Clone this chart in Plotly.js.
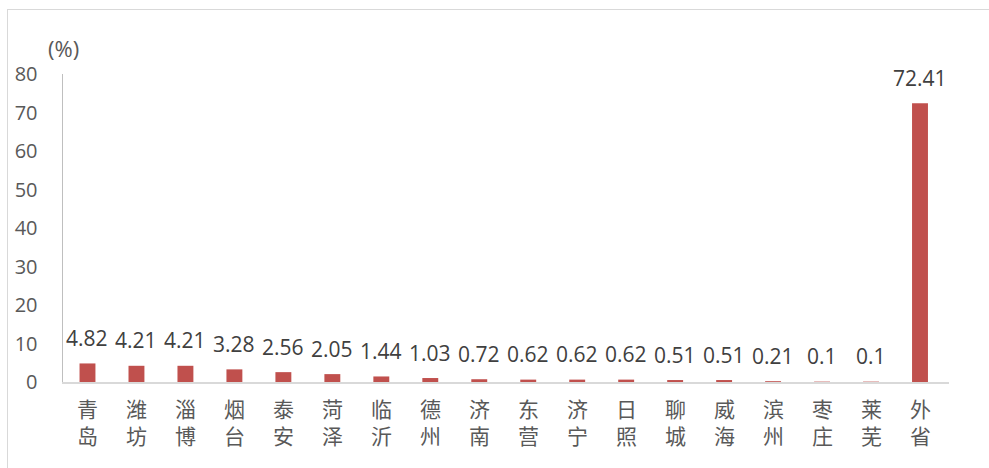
<!DOCTYPE html>
<html>
<head>
<meta charset="utf-8">
<script src="https://cdn.plot.ly/plotly-3.0.1.min.js"></script>
<style>
html,body{margin:0;padding:0;background:#fff;overflow:hidden;}
#chart{width:989px;height:468px;position:absolute;left:0;top:0;}
#frame{position:absolute;left:7px;top:9px;width:1000px;height:500px;border:1px solid #D9D9D9;pointer-events:none;}
</style>
</head>
<body>
<div id="frame"></div>
<div id="chart"></div>
<script>
const categories = ["青岛","潍坊","淄博","烟台","泰安","菏泽","临沂","德州","济南","东营","济宁","日照","聊城","威海","滨州","枣庄","莱芜","外省"];
const values = [4.82,4.21,4.21,3.28,2.56,2.05,1.44,1.03,0.72,0.62,0.62,0.62,0.51,0.51,0.21,0.1,0.1,72.41];
const yTicks = [0,10,20,30,40,50,60,70,80];
const yUnit = "(%)";

const bars = {
  type: 'bar',
  x: categories,
  y: values,
  marker: {color: '#C0504D'},
  hoverinfo: 'x+y'
};

const catFont = {family: 'Noto Sans CJK SC, sans-serif', size: 21, color: '#595959'};

const annotations = categories.map((c, i) => ({
  x: c, y: values[i], xref: 'x', yref: 'y',
  text: String(values[i]), showarrow: false,
  yanchor: 'middle', yshift: 25.5,
  font: {family: 'Open Sans, sans-serif', size: 21, color: '#404040'}
}));
categories.forEach(c => {
  annotations.push({x: c, y: 0, xref: 'x', yref: 'paper', text: c.split('').join('<br>'),
    showarrow: false, yanchor: 'middle', yshift: -39.5, font: catFont});
});
annotations.push({
  x: 0, y: 1.086, xref: 'paper', yref: 'paper', text: yUnit, showarrow: false,
  xanchor: 'center', yanchor: 'middle',
  font: {family: 'Open Sans, sans-serif', size: 22, color: '#595959'}
});

const layout = {
  width: 989, height: 468,
  margin: {l: 62.5, r: 40.4, t: 73.5, b: 86, pad: 0},
  paper_bgcolor: 'rgba(0,0,0,0)', plot_bgcolor: 'rgba(0,0,0,0)',
  bargap: 0.675,
  showlegend: false,
  xaxis: {
    type: 'category', showticklabels: false,
    showline: true, linecolor: '#D9D9D9', linewidth: 1.5,
    ticks: '', showgrid: false, zeroline: false
  },
  yaxis: {
    range: [0, 80], tickvals: yTicks, ticktext: yTicks.map(String),
    showline: true, linecolor: '#BFBFBF', linewidth: 1.5,
    ticks: '', showgrid: false, zeroline: false,
    tickfont: {family: 'Open Sans, sans-serif', size: 20, color: '#595959'},
    ticklabelstandoff: 20
  },
  annotations: annotations
};

Plotly.newPlot('chart', [bars], layout, {displayModeBar: false, staticPlot: true});
</script>
</body>
</html>
